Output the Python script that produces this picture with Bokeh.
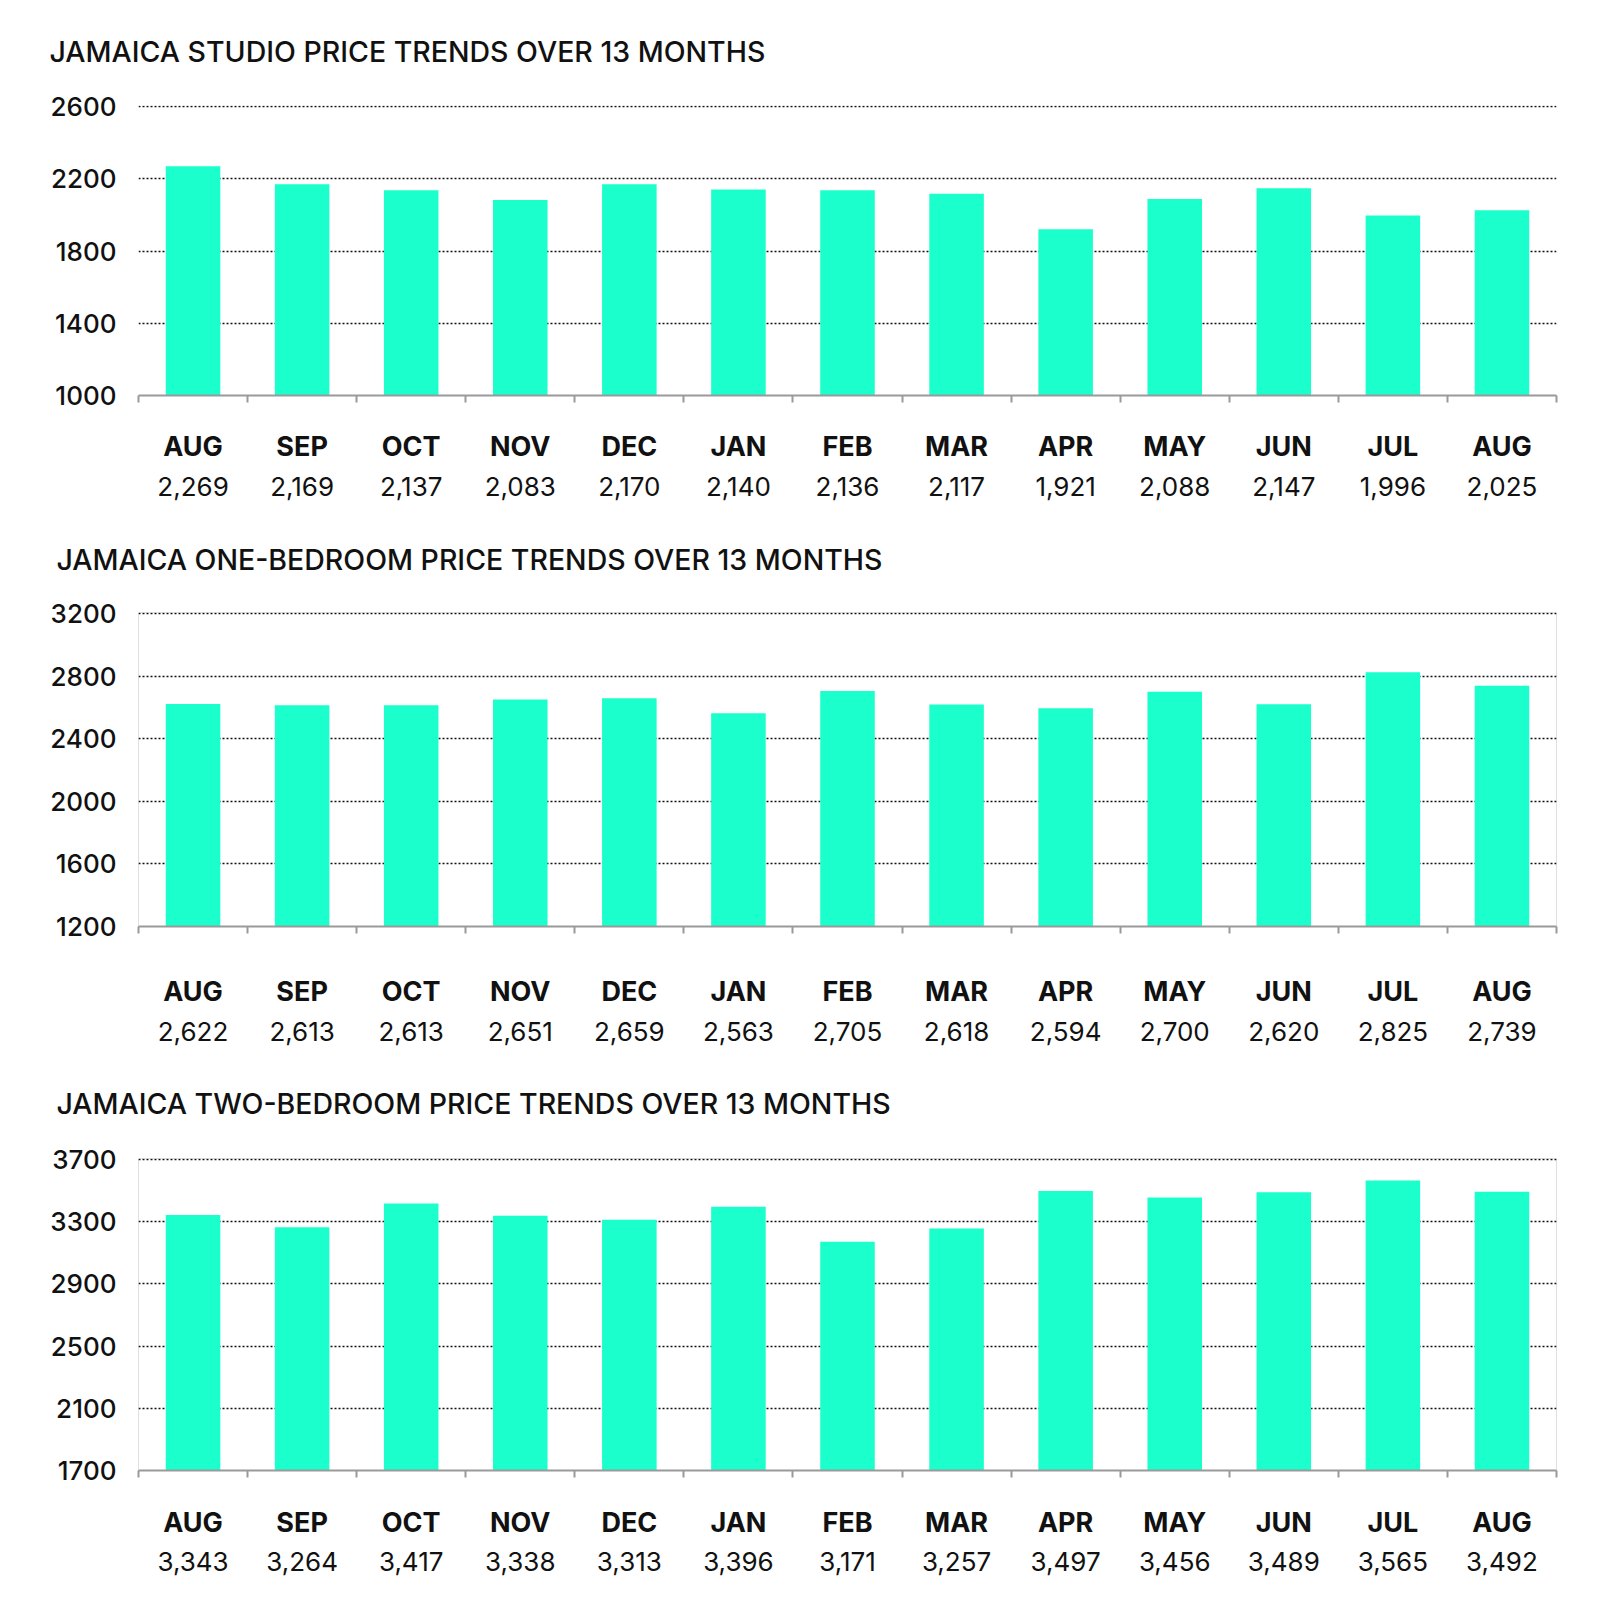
from bokeh.plotting import figure
from bokeh.models import Range1d, FixedTicker, LinearAxis, Title
from bokeh.layouts import column
from bokeh.embed import file_html
from bokeh.resources import INLINE

months = ["AUG", "SEP", "OCT", "NOV", "DEC", "JAN", "FEB", "MAR", "APR", "MAY", "JUN", "JUL", "AUG"]
studio = [2269, 2169, 2137, 2083, 2170, 2140, 2136, 2117, 1921, 2088, 2147, 1996, 2025]
one_bed = [2622, 2613, 2613, 2651, 2659, 2563, 2705, 2618, 2594, 2700, 2620, 2825, 2739]
two_bed = [3343, 3264, 3417, 3338, 3313, 3396, 3171, 3257, 3497, 3456, 3489, 3565, 3492]

titles = [
    "JAMAICA STUDIO PRICE TRENDS OVER 13 MONTHS",
    "JAMAICA ONE-BEDROOM PRICE TRENDS OVER 13 MONTHS",
    "JAMAICA TWO-BEDROOM PRICE TRENDS OVER 13 MONTHS",
]
y_ranges = [(1000, 2600), (1200, 3200), (1700, 3700)]

FONT = "Inter"
FONT_MED = "Inter Medium, Inter"
BAR = "#1affcc"


def make(title, values, yr, height, top, bottom, title_offset, spacer_standoff,
         month_standoff, value_standoff, outline):
    n = len(values)
    centers = [i + 0.5 for i in range(n)]
    frame_h = height - top - bottom
    pad = (yr[1] - yr[0]) / (frame_h - 1)
    p = figure(width=1584, height=height, title=None,
               x_range=Range1d(0, n), y_range=Range1d(yr[0], yr[1] + pad),
               output_backend="svg", toolbar_location=None,
               x_axis_location=None,
               min_border_left=138, min_border_right=28,
               min_border_top=top, min_border_bottom=bottom)
    p.outline_line_color = "#e0e0e0" if outline else None
    p.outline_line_width = 1
    p.background_fill_color = "white"
    p.border_fill_color = "white"

    p.vbar(x=centers, top=values, bottom=yr[0], width=0.5, color=BAR, line_color=None)

    # empty spacer panel between the title and the plot frame
    spacer = Title(text=" ", text_font=FONT, text_font_size="10px",
                   standoff=spacer_standoff, text_color="white")
    p.add_layout(spacer, "above")
    t = Title(text=title, align="left", offset=title_offset,
              text_font=FONT_MED, text_font_size="28.5px", text_font_style="normal",
              text_color="#111111", standoff=10)
    p.add_layout(t, "above")

    yax = p.yaxis[0]
    yax.ticker = FixedTicker(ticks=list(range(yr[0], yr[1] + 1, 400)))
    yax.axis_line_color = None
    yax.major_tick_line_color = None
    yax.minor_tick_line_color = None
    yax.major_label_text_font = FONT_MED
    yax.major_label_text_font_size = "26px"
    yax.major_label_text_color = "#111111"
    yax.major_label_standoff = 16

    p.xgrid.visible = False
    p.ygrid.grid_line_color = "#111111"
    p.ygrid.grid_line_dash = "2 2"
    p.ygrid.grid_line_width = 1.7
    p.ygrid.ticker = yax.ticker

    ax1 = LinearAxis(
        ticker=FixedTicker(ticks=centers, minor_ticks=list(range(n + 1))),
        major_label_overrides={c: m for c, m in zip(centers, months)},
        axis_line_color="#9a9a9a", axis_line_width=2,
        major_tick_line_color=None,
        minor_tick_line_color="#9a9a9a", minor_tick_line_width=2,
        minor_tick_out=7, minor_tick_in=0,
        major_label_text_font=FONT, major_label_text_font_size="27px",
        major_label_text_font_style="bold", major_label_text_color="#111111",
        major_label_standoff=month_standoff,
    )
    ax2 = LinearAxis(
        ticker=FixedTicker(ticks=centers),
        major_label_overrides={c: f"{v:,}" for c, v in zip(centers, values)},
        axis_line_color=None,
        major_tick_line_color=None, minor_tick_line_color=None,
        major_label_text_font=FONT, major_label_text_font_size="26px",
        major_label_text_color="#111111",
        major_label_standoff=value_standoff,
    )
    p.add_layout(ax1, "below")
    p.add_layout(ax2, "below")
    return p


p1 = make(titles[0], studio, y_ranges[0], 505, 105, 110, -89, 18, 27, 5, False)
p2 = make(titles[1], one_bed, y_ranges[1], 542, 107, 121, -82, 17, 41, 5, True)
p3 = make(titles[2], two_bed, y_ranges[2], 566, 111, 143, -82, 19, 28, 4, True)

layout = column(p1, p2, p3, spacing=0)
open("out.html", "w").write(file_html(layout, INLINE))
